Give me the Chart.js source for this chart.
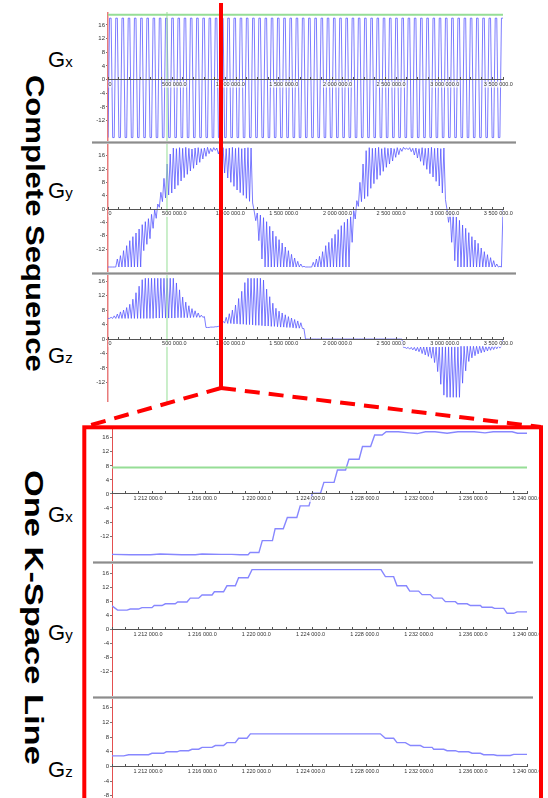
<!DOCTYPE html>
<html>
<head>
<meta charset="utf-8">
<script src="https://cdn.jsdelivr.net/npm/chart.js@4.4.1/dist/chart.umd.min.js"></script>
<style>
  html, body { margin: 0; padding: 0; background: #fff; }
  body { position: relative; width: 548px; height: 798px; overflow: hidden; font-family: "Liberation Sans", Arial, sans-serif; }
  .panel { position: absolute; }
  .bar { position: absolute; height: 3px; background: linear-gradient(#d0d0d0, #8c8c8c 50%, #d0d0d0); }
  .title { position: absolute; font-weight: bold; font-size: 25px; line-height: 1.15; white-space: nowrap; }
  .glabel { position: absolute; left: 48px; font-size: 22px; line-height: 1; white-space: nowrap; }
  .glabel span { font-size: 15px; }
  #overlay { position: absolute; left: 0; top: 0; }
</style>
</head>
<body>

<div class="title" id="t1">Complete Sequence</div>
<div class="title" id="t2">One K-Space Line</div>

<div class="glabel" style="top:49px">G<span>x</span></div>
<div class="glabel" style="top:180px">G<span>y</span></div>
<div class="glabel" style="top:345px">G<span>z</span></div>
<div class="glabel" style="top:504px">G<span>x</span></div>
<div class="glabel" style="top:622px">G<span>y</span></div>
<div class="glabel" style="top:759px">G<span>z</span></div>

<div class="panel" style="left:90px;top:12px;width:428px;height:129px"><canvas id="p1"></canvas></div>
<div class="panel" style="left:90px;top:144px;width:428px;height:128px"><canvas id="p2"></canvas></div>
<div class="panel" style="left:90px;top:275px;width:428px;height:127px"><canvas id="p3"></canvas></div>
<div class="panel" style="left:93px;top:429px;width:448px;height:132px"><canvas id="p4"></canvas></div>
<div class="panel" style="left:93px;top:564px;width:448px;height:132px"><canvas id="p5"></canvas></div>
<div class="panel" style="left:93px;top:699px;width:448px;height:99px"><canvas id="p6"></canvas></div>

<div class="bar" style="left:92px;top:141px;width:424px"></div>
<div class="bar" style="left:92px;top:272px;width:424px"></div>
<div class="bar" style="left:93px;top:561px;width:440px"></div>
<div class="bar" style="left:93px;top:696px;width:440px"></div>

<svg id="overlay" width="548" height="798">
  <line x1="221" y1="3" x2="221" y2="388" stroke="#f00" stroke-width="4"/>
  <line x1="221" y1="388" x2="84" y2="427" stroke="#f00" stroke-width="4" stroke-dasharray="15 9"/>
  <line x1="221" y1="388" x2="541" y2="427" stroke="#f00" stroke-width="4" stroke-dasharray="15 9"/>
  <rect x="84.3" y="427.3" width="456.7" height="380" fill="none" stroke="#f00" stroke-width="4"/>
</svg>

<script>
// full sequence traces are sampled every SAMPLE_STEP (same time units as the axis)
const SAMPLE_STEP = 14500;
const FULL_MAX = 3683000;
const LINE_MIN = 1210450, LINE_MAX = 1241100;
const CURSOR_T = 550000;     // green vertical cursor
const CURSOR_GX = 19.0;      // green level, full Gx
const CURSOR_KGX = 7.5;      // green level, k-space line Gx

const yTickValues = [-12, -8, -4, 0, 4, 8, 12, 16];
const fullTickLabels = [0, 500000, 1000000, 1500000, 2000000, 2500000, 3000000, 3500000];
const lineTickLabels = [1212000, 1216000, 1220000, 1224000, 1228000, 1232000, 1236000, 1240000];

const gxFull = [-17,
  18,18,-17,-17, 18,18,-17,-17, 18,18,-17,-17, 18,18,-17,-17, 18,18,-17,-17,
  18,18,-17,-17, 18,18,-17,-17, 18,18,-17,-17, 18,18,-17,-17, 18,18,-17,-17,
  18,18,-17,-17, 18,18,-17,-17, 18,18,-17,-17, 18,18,-17,-17, 18,18,-17,-17,
  18,18,-17,-17, 18,18,-17,-17, 18,18,-17,-17, 18,18,-17,-17, 18,18,-17,-17,
  18,18,-17,-17, 18,18,-17,-17, 18,18,-17,-17, 18,18,-17,-17, 18,18,-17,-17,
  18,18,-17,-17, 18,18,-17,-17, 18,18,-17,-17, 18,18,-17,-17, 18,18,-17,-17,
  18,18,-17,-17, 18,18,-17,-17, 18,18,-17,-17, 18,18,-17,-17, 18,18,-17,-17,
  18,18,-17,-17, 18,18,-17,-17, 18,18,-17,-17, 18,18,-17,-17, 18,18,-17,-17,
  18,18,-17,-17, 18,18,-17,-17, 18,18,-17,-17, 18,18,-17,-17, 18,18,-17,-17,
  18,18,-17,-17, 18,18,-17,-17, 18,18,-17,-17, 18,18,-17,-17, 18,18,-17,-17,
  18,18,-17,-17, 18,18,-17,-17, 18,18,-17,-17, 18,18,-17,-17, 18,18,-17,-17,
  18,18,-17,-17, 18,18,-17,-17, 18,18,-17,-17, 18,18,-17,-17, 18,18,-17,-17,
  18,18,-17,-17, 18,18,-17,-17, 18,18,-17,-17,
  18,18];

const gyFull = [
  -17.4,-17.4,-17.4,-17.4,-17.4,-17.4,-15.0,-17.4,-14.0,-17.4,-12.5,-17.4,-11.0,-17.4,-9.5,-17.4,-8.3,-17.4,-7.2,-17.4,
  -6.0,-17.4,-4.7,-12.5,-3.8,-10.6,-2.9,-8.9,-1.6,-5.8,-0.2,-2.8,1.5,0.5,5.0,2.2,9.2,3.3,13.5,4.2,
  16.5,4.8,18.3,6.0,18.1,7.1,18.4,8.4,18.2,9.4,18.5,10.4,18.2,11.4,18.0,12.2,18.3,13.2,18.4,14.0,
  18.1,15.0,18.3,15.8,18.5,16.6,18.2,17.2,18.4,17.6,18.3,16.5,18.2,13.5,18.4,10.8,18.1,9.3,18.3,8.0,
  18.5,6.8,18.2,5.7,18.4,4.9,18.1,4.1,18.3,3.2,18.4,2.3,18.3,1.8,-0.6,-3.5,-1.2,-9.5,-1.8,-15.0,
  -2.6,-17.4,-3.8,-17.4,-5.2,-17.4,-6.6,-17.4,-8.2,-17.4,-9.2,-17.4,-10.2,-17.4,-11.4,-17.4,-12.5,-17.4,-13.6,-17.4,
  -14.7,-17.4,-15.7,-17.4,-16.5,-17.4,-17.2,-17.4,-17.4,-17.4,-17.4,-17.4,-16.0,-17.4,-15.0,-17.4,-14.2,-17.4,-12.8,-17.4,
  -11.0,-17.4,-10.0,-17.4,-8.8,-17.4,-7.6,-17.4,-6.2,-17.4,-5.0,-17.4,-4.0,-17.4,-3.0,-17.4,-2.0,-10.0,-0.5,-3.0,
  2.5,0.8,8.0,2.2,13.5,3.1,17.5,3.8,18.4,6.2,18.2,7.6,18.3,8.9,18.5,10.1,18.1,11.3,18.4,12.5,
  18.2,13.5,18.3,14.4,18.1,15.5,18.4,16.3,18.2,17.3,18.5,17.9,18.3,17.8,18.4,17.2,18.2,16.2,18.3,15.3,
  18.1,14.3,18.4,13.1,18.2,11.9,18.3,10.6,18.5,9.6,18.2,8.3,18.3,6.9,18.1,4.8,18.3,2.8,-0.2,-4.0,
  -0.8,-10.0,-1.4,-15.5,-2.4,-17.4,-3.4,-17.4,-4.8,-17.4,-5.8,-17.4,-7.1,-17.4,-8.3,-17.4,-9.3,-17.4,-10.3,-17.4,
  -11.7,-17.4,-12.8,-17.4,-13.7,-17.4,-14.6,-17.4,-15.5,-17.4,-16.5,-17.4,-17.2,-17.4,0];

const gzFull = [
  5.7,5.7,6.0,5.7,6.4,5.7,6.9,5.7,7.5,5.7,8.0,5.7,8.7,5.7,9.6,5.7,11.0,5.7,12.8,5.7,
  14.6,5.7,16.4,5.7,16.8,5.7,16.8,5.7,16.8,5.7,16.8,5.8,16.8,5.8,16.8,5.8,16.8,5.8,16.8,5.8,
  16.8,5.8,16.8,5.8,15.5,5.9,13.6,5.9,11.6,5.9,10.2,5.9,9.2,5.9,8.4,6.0,7.8,6.0,7.2,6.0,
  6.6,6.0,6.2,3.2,3.2,3.2,3.3,3.3,3.3,3.4,3.4,3.5,3.6,4.4,4.9,4.4,6.0,4.3,7.0,4.3,
  8.0,4.2,9.4,4.2,11.2,4.1,13.2,4.1,15.6,4.0,16.8,4.0,16.8,3.9,16.8,3.8,16.8,3.8,16.8,3.7,
  16.3,3.6,13.8,3.6,11.7,3.5,9.9,3.5,8.5,3.4,7.7,3.3,7.2,3.3,6.7,3.2,6.2,3.2,5.8,3.1,
  5.4,3.0,5.0,3.0,4.5,2.9,2.9,0,0,0,0,0,0,0,0,0,0,0,0,0,
  0,0,0,0,0,0,0,0,0,0,0,0,0,0,0,0,0,0,0,0,
  0,0,0,0,0,0,0,0,0,0,0,0,0,0,0,0,0,0,0,0,
  0,0,0,0,0,0,0,0,0,0,-2.3,-2.3,-2.6,-2.3,-2.8,-2.3,-3.0,-2.3,-3.3,-2.3,
  -3.5,-2.2,-4.0,-2.2,-4.4,-2.2,-4.8,-2.2,-5.3,-2.2,-6.5,-2.2,-9.0,-2.2,-12.5,-2.1,-15.5,-2.1,-16.1,-2.1,
  -16.1,-2.1,-16.1,-2.1,-16.1,-2.1,-16.1,-2.0,-12.2,-2.0,-8.8,-2.0,-6.2,-2.0,-5.2,-2.0,-4.6,-2.0,-4.1,-2.0,
  -3.8,-2.0,-3.6,-2.0,-3.3,-1.9,-3.1,-1.9,-2.9,-1.9,-2.7,-1.9,-2.5,-1.9,0];

// one k-space line: breakpoints (time, value)
const kGxT = [1210450,1211800,1213300,1214000,1215600,1216600,1217100,1218500,1219300,1219900,1220500,1220650,
  1221300,1221550,1222300,1222500,1223100,1223400,1224100,1224350,1225000,1225250,1225850,1226100,1226850,
  1227100,1227700,1227950,1228700,1228950,1229550,1229850,1230400,1230700,1231600,1232400,1233000,1233600,
  1234300,1235200,1236000,1237200,1238000,1238600,1240000,1240400,1241100];
const kGxV = [-17.2,-17.3,-17.3,-17.1,-17.3,-17.3,-17.1,-17.2,-17.2,-17.3,-17.3,-16.7,
  -16.7,-13.3,-13.3,-9.9,-9.9,-6.7,-6.7,-3.4,-3.4,0.2,0.2,3.3,3.3,
  6.8,6.8,9.9,9.9,13.5,13.5,16.8,16.8,17.7,17.7,17.4,17.2,17.7,
  17.7,17.3,17.7,17.7,17.4,17.7,17.7,17.3,17.3];

const kGyT = [1210450,1210860,1211560,1211800,1212410,1212660,1213400,1213570,1214140,1214390,1215120,1215300,
  1215990,1216230,1216850,1217100,1217840,1218010,1218690,1218940,1219560,1219800,1220500,1220790,1230320,
  1230640,1231250,1231500,1232190,1232440,1233100,1233350,1233960,1234210,1234830,1235070,1235810,1235980,
  1236680,1236920,1237660,1237780,1238520,1238700,1239380,1239630,1240120,1240370,1241100];
const kGyV = [6.7,5.5,5.5,5.8,5.8,6.2,6.2,6.8,6.8,7.3,7.3,7.8,
  7.8,8.9,8.9,9.8,9.8,10.7,10.7,12.4,12.4,14.7,14.7,17.0,17.0,
  15.0,15.0,12.4,12.4,10.9,10.9,9.9,9.9,8.9,8.9,7.9,7.9,7.3,
  7.3,6.8,6.8,6.3,6.3,6.0,6.0,4.6,4.6,5.0,5.0];

const kGzT = [1210450,1211310,1211680,1213150,1213400,1214260,1214460,1215250,1215490,1216110,1216360,1216850,
  1217100,1217840,1218080,1218690,1218940,1219560,1219800,1220420,1220670,1230270,1230640,1231250,1231500,
  1232120,1232490,1233230,1233470,1234090,1234210,1234950,1235200,1235810,1236050,1236790,1237040,1237660,
  1237900,1238640,1238890,1239870,1240120,1241100];
const kGzV = [2.9,2.9,3.2,3.2,3.6,3.6,4.0,4.0,4.3,4.3,4.7,4.7,
  5.2,5.2,5.7,5.7,6.5,6.5,7.7,7.7,8.9,8.9,7.7,7.7,6.5,
  6.5,5.7,5.7,5.2,5.2,4.7,4.7,4.3,4.3,4.0,4.0,3.6,3.6,
  3.2,3.2,3.0,3.0,3.3,3.3];

Chart.defaults.font.family = '"Liberation Sans", Arial, sans-serif';

const GREEN = 'rgb(150,222,150)';
const fullStyle = { borderColor: 'rgba(80,80,255,0.75)', borderWidth: 1, pointRadius: 0 };
const kStyle = { borderColor: 'rgb(135,135,255)', borderWidth: 1.4, pointRadius: 0 };

const sampled = vals => vals.map((v, i) => ({ x: i * SAMPLE_STEP, y: v }));
const paired = (ts, vs) => ts.map((t, i) => ({ x: t, y: vs[i] }));

function vCursor(yMin, yMax) {
  return { data: [{ x: CURSOR_T, y: yMin }, { x: CURSOR_T, y: yMax }], borderColor: GREEN, borderWidth: 1, pointRadius: 0 };
}
function hCursor(x0, x1, y) {
  return { data: [{ x: x0, y: y }, { x: x1, y: y }], borderColor: GREEN, borderWidth: 2, pointRadius: 0 };
}

function fmtTime(v) {
  if (v === 0) return '0';
  return Math.round(v).toString().replace(/\B(?=(\d{3})+(?!\d))/g, ' ') + '.0';
}

// time labels sit just under the x axis, which runs through y = 0
const midAxisLabels = {
  id: 'midAxisLabels',
  afterDatasetsDraw(chart, args, opts) {
    const xs = chart.scales.x, ys = chart.scales.y, ctx = chart.ctx;
    const y0 = ys.getPixelForValue(0) + 2;
    ctx.save();
    ctx.font = '5.5px "Liberation Sans", Arial, sans-serif';
    ctx.textAlign = 'left';
    ctx.textBaseline = 'top';
    opts.labels.forEach(v => {
      const x = xs.getPixelForValue(v) + 0.5;
      const s = fmtTime(v);
      const w = ctx.measureText(s).width;
      ctx.fillStyle = 'rgba(255,255,255,0.75)';
      ctx.fillRect(x, y0, w, 6);
      ctx.fillStyle = '#333';
      ctx.fillText(s, x, y0);
    });
    ctx.restore();
  }
};

function makePanel(c) {
  return new Chart(document.getElementById(c.id), {
    type: 'line',
    data: { datasets: c.datasets },
    plugins: [midAxisLabels],
    options: {
      animation: false,
      responsive: true,
      maintainAspectRatio: false,
      events: [],
      layout: { padding: { right: c.padRight } },
      plugins: {
        legend: { display: false },
        tooltip: { enabled: false },
        midAxisLabels: { labels: c.xLabels }
      },
      elements: { line: { tension: 0 } },
      scales: {
        x: {
          type: 'linear', min: c.xMin, max: c.xMax,
          position: { y: 0 },
          afterFit: s => { s.height = 0; s.paddingLeft = 0; s.paddingRight = 0; },
          border: { color: '#555', width: 1, z: 1 },
          grid: { drawOnChartArea: false, color: '#555', tickLength: -3, z: 1 },
          ticks: { display: false, stepSize: c.xMinor, includeBounds: false, autoSkip: false, maxRotation: 0 }
        },
        y: {
          min: c.yMin, max: c.yMax,
          afterFit: s => { s.width = c.yAxisW; s.paddingTop = 0; s.paddingBottom = 0; },
          afterBuildTicks: s => {
            s.ticks = yTickValues.filter(v => v >= c.yMin && v <= c.yMax).map(v => ({ value: v }));
          },
          border: { color: c.axisColor, width: c.axisWidth },
          grid: { drawOnChartArea: false, color: '#777', tickLength: 2 },
          ticks: { padding: 1, color: '#333', font: { size: 6 } }
        }
      }
    }
  });
}

const fullAxis = { xMin: 0, xMax: FULL_MAX, xMinor: 100000, xLabels: fullTickLabels, yAxisW: 18, padRight: 15,
  axisColor: 'rgba(228,100,100,0.85)', axisWidth: 1.5 };
const lineAxis = { xMin: LINE_MIN, xMax: LINE_MAX, xMinor: 1000, xLabels: lineTickLabels, yAxisW: 19, padRight: 14,
  axisColor: 'rgba(225,60,60,0.9)', axisWidth: 1 };

makePanel(Object.assign({}, fullAxis, { id: 'p1', yMin: -18.0, yMax: 19.8,
  datasets: [vCursor(-18.0, 19.8), hCursor(0, FULL_MAX, CURSOR_GX), Object.assign({ data: sampled(gxFull) }, fullStyle)] }));
makePanel(Object.assign({}, fullAxis, { id: 'p2', yMin: -18.9, yMax: 19.5,
  datasets: [vCursor(-18.9, 19.5), Object.assign({ data: sampled(gyFull) }, fullStyle)] }));
makePanel(Object.assign({}, fullAxis, { id: 'p3', yMin: -17.4, yMax: 17.7,
  datasets: [vCursor(-17.4, 17.7), Object.assign({ data: sampled(gzFull) }, fullStyle)] }));

makePanel(Object.assign({}, lineAxis, { id: 'p4', yMin: -19.1, yMax: 18.5,
  datasets: [hCursor(LINE_MIN, LINE_MAX, CURSOR_KGX), Object.assign({ data: paired(kGxT, kGxV) }, kStyle)] }));
makePanel(Object.assign({}, lineAxis, { id: 'p5', yMin: -18.9, yMax: 18.6,
  datasets: [Object.assign({ data: paired(kGyT, kGyV) }, kStyle)] }));
makePanel(Object.assign({}, lineAxis, { id: 'p6', yMin: -8.6, yMax: 18.4,
  datasets: [Object.assign({ data: paired(kGzT, kGzV) }, kStyle)] }));

// rotated side titles, stretched along the text to the reference length
function placeTitle(id, cx, cy, len) {
  const el = document.getElementById(id);
  const w = el.offsetWidth, h = el.offsetHeight;
  el.style.left = (cx - w / 2) + 'px';
  el.style.top = (cy - h / 2) + 'px';
  el.style.transform = 'rotate(90deg) scaleX(' + (len / w) + ')';
}
placeTitle('t1', 34, 223, 297);
placeTitle('t2', 34, 617, 295);
</script>
</body>
</html>
